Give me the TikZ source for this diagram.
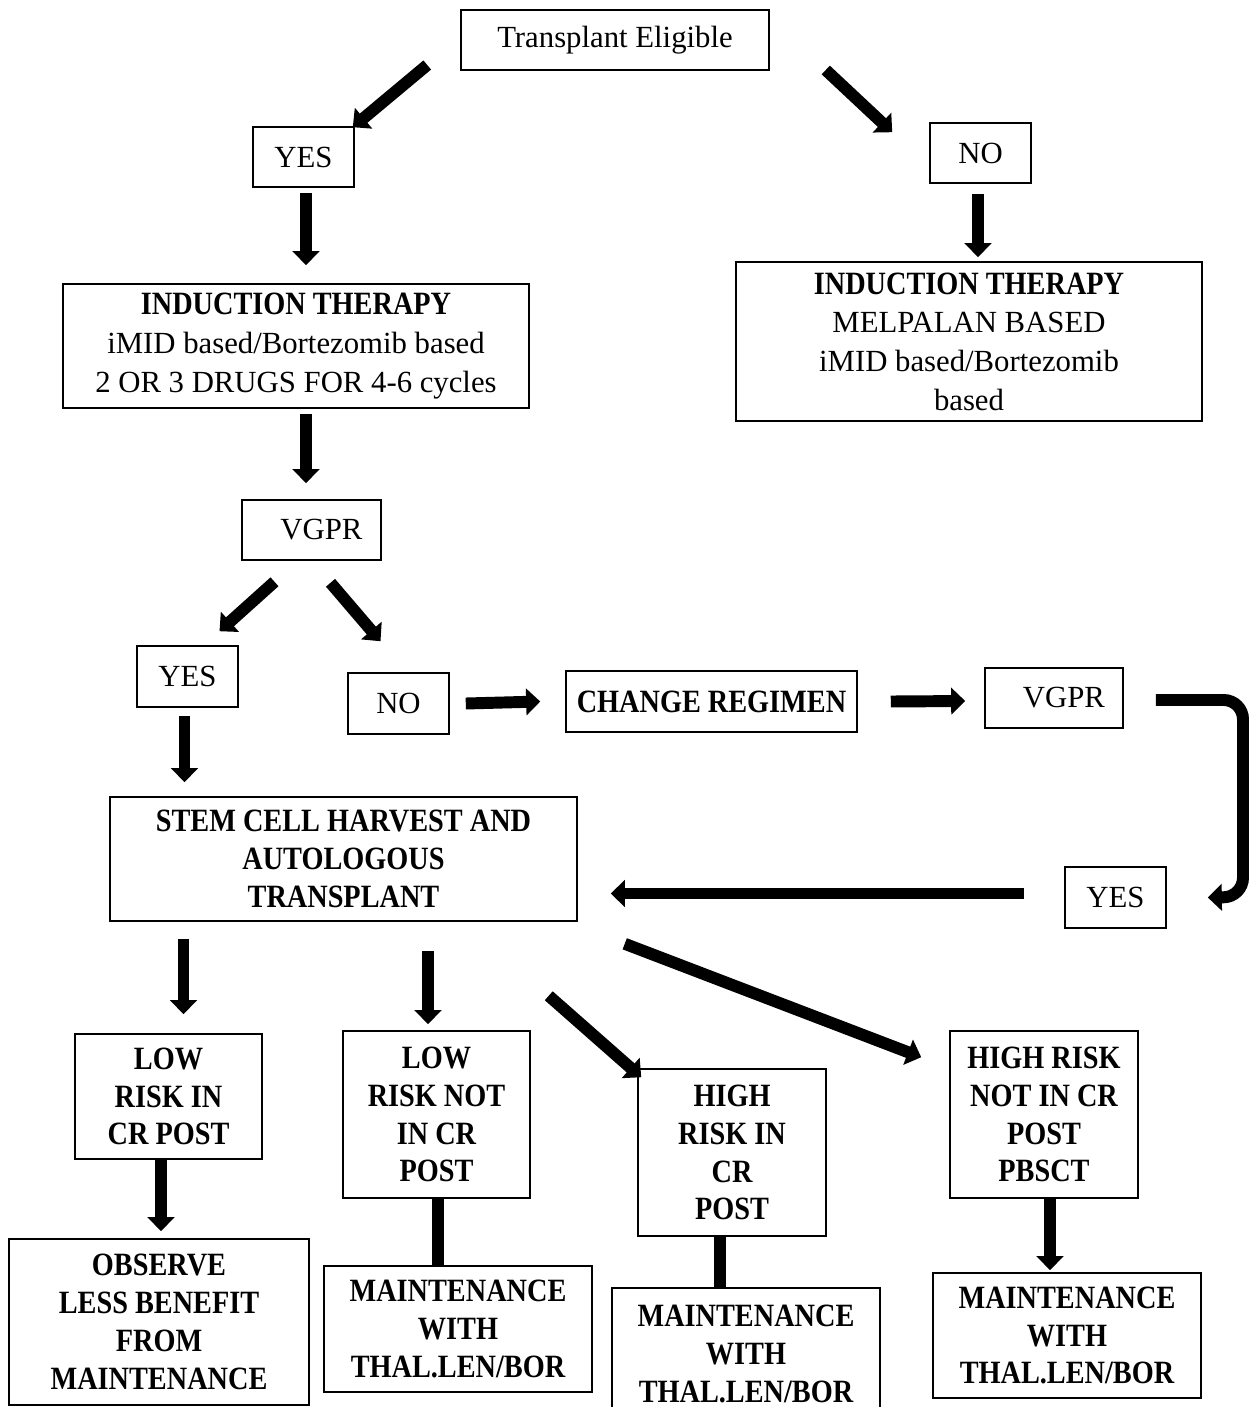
\documentclass[tikz,border=0pt]{standalone}
\usepackage{fontspec}
\setmainfont{Liberation Serif}
\newfontfamily\headfont[FakeStretch=0.87]{Liberation Serif}
\usetikzlibrary{calc,arrows.meta}

\begin{document}
\begin{tikzpicture}[x=0.02cm,y=-0.02cm,
  font=\fontsize{17.5}{22}\selectfont,
  box/.style={draw, line width=0.9pt, align=center, inner sep=0pt},
  head/.style={font=\headfont\bfseries\fontsize{18.5}{21.5}\selectfont},
  bigarrow/.style={line width=6.8pt, -{Triangle[length=8pt,width=15pt]}},
  bigline/.style={line width=6.8pt}]

\useasboundingbox (0,0) rectangle (1255,1407);

\node[box, minimum width=6.16cm, minimum height=1.2cm] (te) at (615,40) {Transplant Eligible};
\node[box, minimum width=2.02cm, minimum height=1.2cm] (yes1) at (303.5,157) {YES};
\node[box, minimum width=2.02cm, minimum height=1.2cm] (no1) at (980.5,153) {NO};
\node[box, minimum width=9.32cm, minimum height=2.48cm] (ind1) at (296,346)
  {{\headfont\bfseries\fontsize{18.5}{22}\selectfont INDUCTION THERAPY}\\ iMID based/Bortezomib based\\ 2 OR 3 DRUGS FOR 4-6 cycles};
\node[box, minimum width=9.32cm, minimum height=3.18cm] (ind2) at (969,341.5)
  {{\headfont\bfseries\fontsize{18.5}{22}\selectfont INDUCTION THERAPY}\\ MELPALAN BASED\\ iMID based/Bortezomib\\ based};
\node[box, minimum width=2.78cm, minimum height=1.2cm] (vgpr1) at (311.5,530) {\hspace*{0.65em}VGPR};
\node[box, minimum width=2.02cm, minimum height=1.22cm] (yes2) at (187.5,676.5) {YES};
\node[box, minimum width=2.02cm, minimum height=1.22cm] (no2) at (398.5,703.5) {NO};
\node[box, head, minimum width=5.82cm, minimum height=1.22cm] (change) at (711.5,701.5) {CHANGE REGIMEN};
\node[box, minimum width=2.76cm, minimum height=1.2cm] (vgpr2) at (1054,698) {\hspace*{0.65em}VGPR};
\node[box, head, minimum width=9.34cm, minimum height=2.48cm] (stem) at (343.5,859)
  {STEM CELL HARVEST AND\\ AUTOLOGOUS\\ TRANSPLANT};
\node[box, minimum width=2.02cm, minimum height=1.22cm] (yes3) at (1115.5,897.5) {YES};
\node[box, head, minimum width=3.74cm, minimum height=2.5cm] (low1) at (168.5,1096.5) {LOW\\ RISK IN\\ CR POST};
\node[box, head, minimum width=3.74cm, minimum height=3.34cm] (low2) at (436.5,1114.5) {LOW\\ RISK NOT\\ IN CR\\ POST};
\node[box, head, minimum width=3.76cm, minimum height=3.34cm] (high1) at (732,1152.5) {HIGH\\ RISK IN\\ CR\\ POST};
\node[box, head, minimum width=3.76cm, minimum height=3.34cm] (high2) at (1044,1114.5) {HIGH RISK\\ NOT IN CR\\ POST\\ PBSCT};
\node[box, head, minimum width=6.0cm, minimum height=3.32cm] (obs) at (159,1322) {OBSERVE\\ LESS BENEFIT\\ FROM\\ MAINTENANCE};
\node[box, head, minimum width=5.36cm, minimum height=2.52cm] (m1) at (458,1329) {MAINTENANCE\\ WITH\\ THAL.LEN/BOR};
\node[box, head, minimum width=5.36cm, minimum height=2.64cm] (m2) at (746,1354) {MAINTENANCE\\ WITH\\ THAL.LEN/BOR};
\node[box, head, minimum width=5.36cm, minimum height=2.5cm] (m3) at (1067,1335.5) {MAINTENANCE\\ WITH\\ THAL.LEN/BOR};

\draw[bigarrow] ($(te.west)+(-33,25)$) -- ($(yes1.north east)+(-2,1)$);
\draw[bigarrow] ($(te.east)+(56,30)$) -- ($(no1.north west)+(-37,10)$);
\draw[bigarrow] ($(yes1.south)+(2.5,5)$) -- ($(yes1.south |- ind1.north)+(2.5,-18)$);
\draw[bigarrow] ($(no1.south)+(-2.5,10)$) -- ($(no1.south |- ind2.north)+(-2.5,-4)$);
\draw[bigarrow] ($(ind1.south)+(10,5)$) -- ($(ind1.south |- vgpr1.north)+(10,-16)$);
\draw[bigarrow] ($(vgpr1.south)+(-37,21)$) -- ($(yes2.north)+(32,-14)$);
\draw[bigarrow] ($(vgpr1.south)+(19,22)$) -- ($(no2.north)+(-18,-31)$);
\draw[bigarrow] ($(yes2.south)+(-3,8)$) -- ($(yes2.south |- stem.north)+(-3,-14)$);
\draw[bigarrow] ($(no2.east)+(16,0)$) -- ($(change.west)+(-25,0)$);
\draw[bigarrow] ($(change.east)+(33,0)$) -- ($(vgpr2.west)+(-19,3)$);
\draw[bigarrow, rounded corners=11pt] ($(vgpr2.east)+(32,2)$) -- (1243,700) -- (1243,897) -- ($(yes3.east)+(41,0)$);
\draw[bigarrow] ($(yes3.west)+(-40,-4)$) -- ($(stem.east |- yes3.west)+(33,-4)$);
\draw[bigarrow] ($(stem.south -| low1.north)+(15,17)$) -- ($(low1.north)+(15,-19)$);
\draw[bigarrow] ($(stem.south -| low2.north)+(-8.5,29)$) -- ($(low2.north)+(-8.5,-6)$);
\draw[bigarrow] ($(stem.south east)+(-29,74)$) -- ($(high1.north west)+(4,9)$);
\draw[bigarrow] ($(stem.south east)+(47,22)$) -- ($(high2.north west)+(-28,27)$);
\draw[bigarrow] ($(low1.south)+(-7.5,0)$) -- ($(low1.south |- obs.north)+(-7.5,-7)$);
\draw[bigline] ($(low2.south)+(1.5,0)$) -- ($(low2.south |- m1.north)+(1.5,0)$);
\draw[bigline] ($(high1.south)+(-12,0)$) -- ($(high1.south |- m2.north)+(-12,0)$);
\draw[bigarrow] ($(high2.south)+(6,0)$) -- ($(high2.south |- m3.north)+(6,-2)$);

\end{tikzpicture}
\end{document}
